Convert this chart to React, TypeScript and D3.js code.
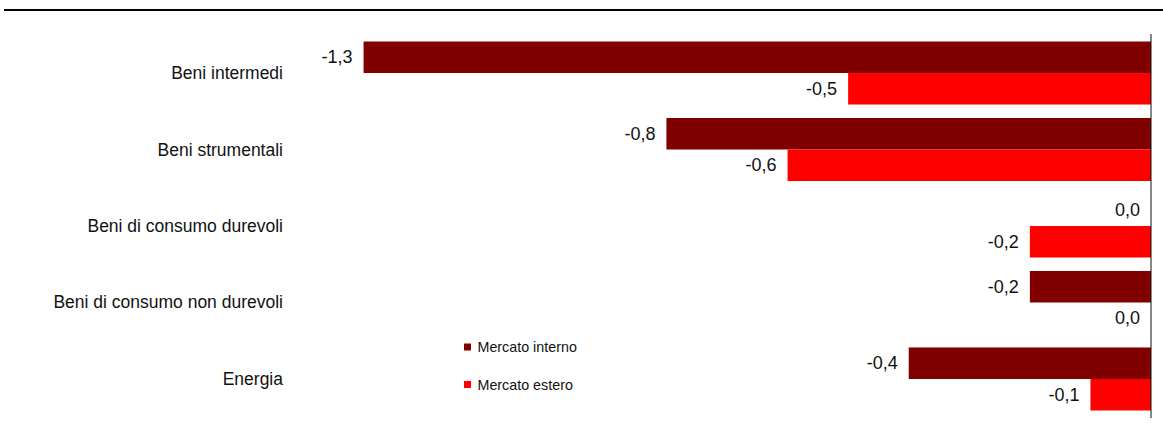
import * as d3 from 'd3';

const categories = [
  'Beni intermedi',
  'Beni strumentali',
  'Beni di consumo durevoli',
  'Beni di consumo non durevoli',
  'Energia',
];
const seriesNames = ['Mercato interno', 'Mercato estero'];
const interno = [-1.3, -0.8, 0.0, -0.2, -0.4];
const estero = [-0.5, -0.6, -0.2, 0.0, -0.1];
const seriesColors = ['#800000', '#FF0000'];

const W = 1163;
const H = 435;
const font = '"Liberation Sans", Arial, sans-serif';

export default function App() {
  const values = [interno, estero];

  // plot area
  const y = d3
    .scaleBand<string>()
    .domain(categories)
    .range([34, 418])
    .paddingInner(0.176)
    .paddingOuter(0.098);
  const ySub = d3
    .scaleBand<string>()
    .domain(seriesNames)
    .range([0, y.bandwidth()]);
  const x = d3.scaleLinear().domain([-1.4, 0]).range([303, 1151]);

  const fmt = (v: number) => d3.format('.1f')(v).replace('.', ',').replace('−', '-');

  return (
    <svg
      width={W}
      height={H}
      style={{ position: 'absolute', left: 0, top: 0, background: '#fff' }}
      fontFamily={font}
    >
      <line x1={4} x2={W} y1={10} y2={10} stroke="#000" strokeWidth={2} />

      {categories.map((c) => (
        <text
          key={c}
          x={283}
          y={(y(c) ?? 0) + y.bandwidth() / 2}
          textAnchor="end"
          dominantBaseline="central"
          fontSize={17.5}
          fill="#111"
        >
          {c}
        </text>
      ))}

      {seriesNames.map((s, si) =>
        categories.map((c, ci) => {
          const v = values[si][ci];
          const top = (y(c) ?? 0) + (ySub(s) ?? 0);
          const x0 = x(Math.min(v, 0));
          const w = Math.abs(x(v) - x(0));
          return (
            <g key={s + c}>
              <rect x={x0} y={top} width={w} height={ySub.bandwidth()} fill={seriesColors[si]} />
              <text
                x={x0 - 11}
                y={top + ySub.bandwidth() / 2}
                textAnchor="end"
                dominantBaseline="central"
                fontSize={18}
                fill="#111"
              >
                {fmt(v)}
              </text>
            </g>
          );
        })
      )}

      <line x1={x(0)} x2={x(0)} y1={34} y2={418} stroke="#111" strokeWidth={1} />

      {seriesNames.map((s, i) => (
        <g key={s} transform={`translate(464, ${347 + i * 37.5})`}>
          <rect x={0} y={-3.5} width={7} height={7} fill={seriesColors[i]} />
          <text x={13.5} y={0} dominantBaseline="central" fontSize={14.3} fill="#111">
            {s}
          </text>
        </g>
      ))}
    </svg>
  );
}
